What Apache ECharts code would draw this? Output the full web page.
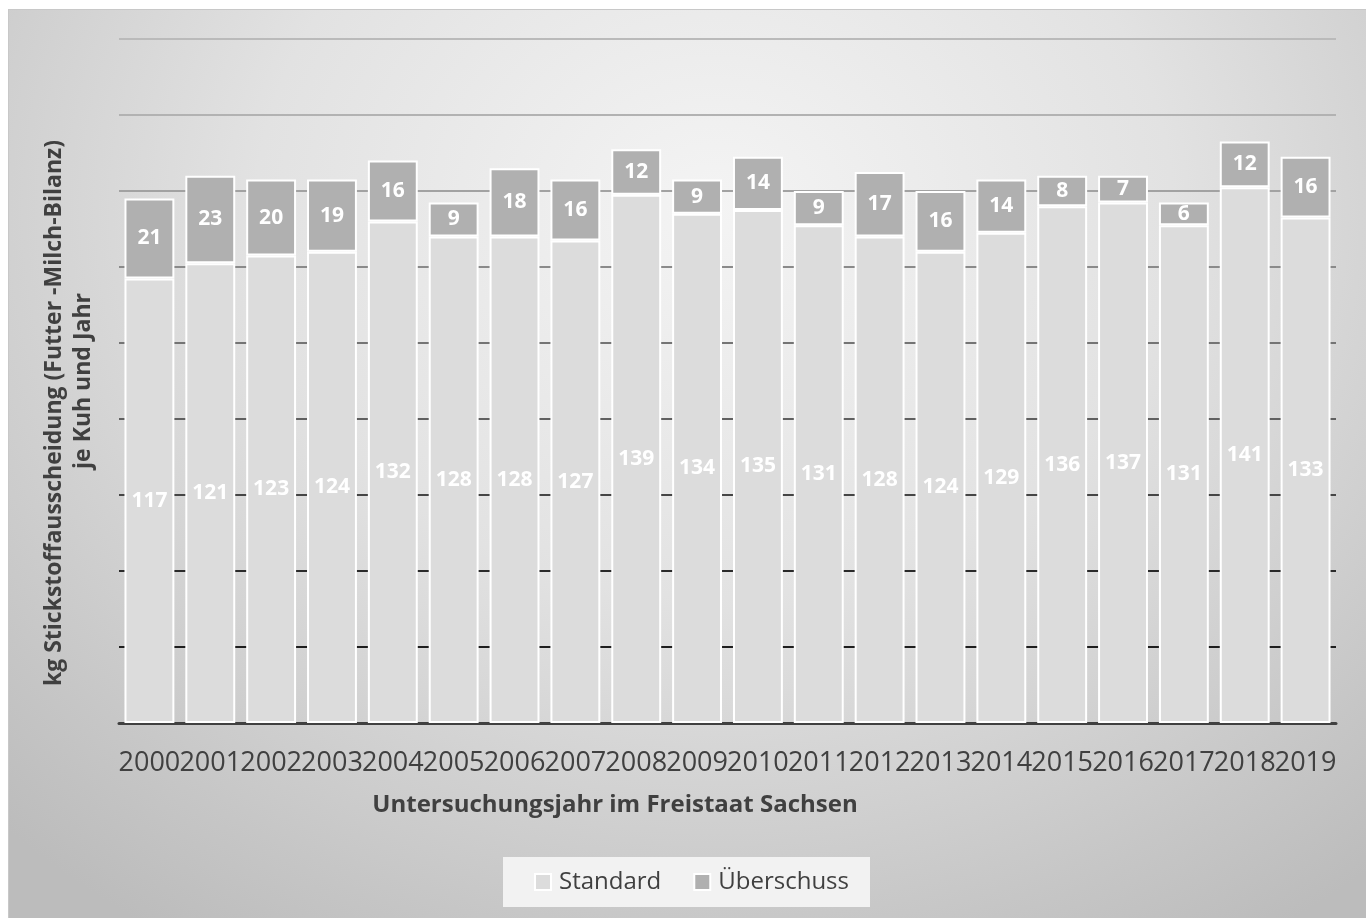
<!DOCTYPE html>
<html>
<head>
<meta charset="utf-8">
<title>Stickstoffausscheidung je Kuh und Jahr</title>
<script src="https://cdn.jsdelivr.net/npm/echarts@6/dist/echarts.min.js"></script>
<style>
  html, body { margin: 0; padding: 0; background: #ffffff; }
  #frame {
    position: absolute; left: 8px; top: 9px; width: 1358px; height: 909px;
    box-sizing: border-box; border-top: 1px solid #c8c8c8; border-left: 1px solid #c8c8c8;
    background: radial-gradient(ellipse 75% 95% at 52% 22%, #f4f4f4 0%, #e2e2e2 45%, #c6c6c6 85%, #bcbcbc 100%);
  }
  #chart { width: 100%; height: 100%; }
</style>
</head>
<body>
<div id="frame"><div id="chart"></div></div>
<script>
// Untersuchungsjahre
const years = ['2000','2001','2002','2003','2004','2005','2006','2007','2008','2009',
               '2010','2011','2012','2013','2014','2015','2016','2017','2018','2019'];
// kg N je Kuh und Jahr: Standardausscheidung
const standard = [117,121,123,124,132,128,128,127,139,134,135,131,128,124,129,136,137,131,141,133];
// kg N je Kuh und Jahr: Überschuss über dem Standard
const ueberschuss = [21,23,20,19,16,9,18,16,12,9,14,9,17,16,14,8,7,6,12,16];

const FONT = '"Open Sans", "Liberation Sans", sans-serif';
const TEXT = '#404040';

const chart = echarts.init(document.getElementById('chart'), null, { renderer: 'canvas' });

chart.setOption({
  backgroundColor: 'transparent',
  animation: false,
  textStyle: { fontFamily: FONT },
  grid: { left: 110, right: 30, top: 29, bottom: 195, containLabel: false },
  legend: {
    left: 494, top: 847,
    backgroundColor: '#f2f2f2',
    padding: [13, 21, 13, 31],
    itemWidth: 16, itemHeight: 16, itemGap: 32,
    icon: 'rect',
    textStyle: { fontFamily: FONT, fontSize: 24, color: TEXT, padding: [0, 0, 0, 3] },
    data: ['Standard', 'Überschuss']
  },
  xAxis: {
    type: 'category',
    data: years,
    axisLine: { lineStyle: { color: '#404040', width: 3 } },
    axisTick: { show: false },
    axisLabel: { interval: 0, fontSize: 27, color: TEXT, margin: 27, fontFamily: FONT }
  },
  yAxis: {
    type: 'value',
    min: 0, max: 180, interval: 20,
    axisLabel: { show: false },
    axisLine: { show: false },
    axisTick: { show: false },
    splitLine: {
      show: true,
      lineStyle: {
        width: 2,
        color: ['#404040', '#1e1e1e', '#2a2a2a', '#454545', '#606060', '#747474',
                '#8a8a8a', '#a2a2a2', '#b2b2b2', '#bababa']
      }
    }
  },
  graphic: [
    {
      type: 'text', x: 45, y: 403, rotation: Math.PI / 2,
      style: {
        text: 'kg Stickstoffausscheidung (Futter -Milch-Bilanz)',
        font: 'bold 23px ' + FONT, fill: TEXT, align: 'center', verticalAlign: 'middle'
      }
    },
    {
      type: 'text', x: 74, y: 371, rotation: Math.PI / 2,
      style: {
        text: 'je Kuh und Jahr',
        font: 'bold 23px ' + FONT, fill: TEXT, align: 'center', verticalAlign: 'middle'
      }
    },
    {
      type: 'text', x: 606, y: 795,
      style: {
        text: 'Untersuchungsjahr im Freistaat Sachsen',
        font: 'bold 24px ' + FONT, fill: TEXT, align: 'center', verticalAlign: 'middle'
      }
    }
  ],
  series: [
    {
      name: 'Standard', type: 'bar', stack: 'n', data: standard,
      barWidth: '82%',
      itemStyle: { color: '#dcdcdc', borderColor: '#ffffff', borderWidth: 2 },
      label: { show: true, position: 'inside', color: '#ffffff', fontSize: 21, fontWeight: 'bold', fontFamily: FONT }
    },
    {
      name: 'Überschuss', type: 'bar', stack: 'n', data: ueberschuss,
      barWidth: '82%',
      itemStyle: { color: '#b0b0b0', borderColor: '#ffffff', borderWidth: 2 },
      label: { show: true, position: 'inside', color: '#ffffff', fontSize: 21, fontWeight: 'bold', fontFamily: FONT }
    }
  ]
});
</script>
</body>
</html>
